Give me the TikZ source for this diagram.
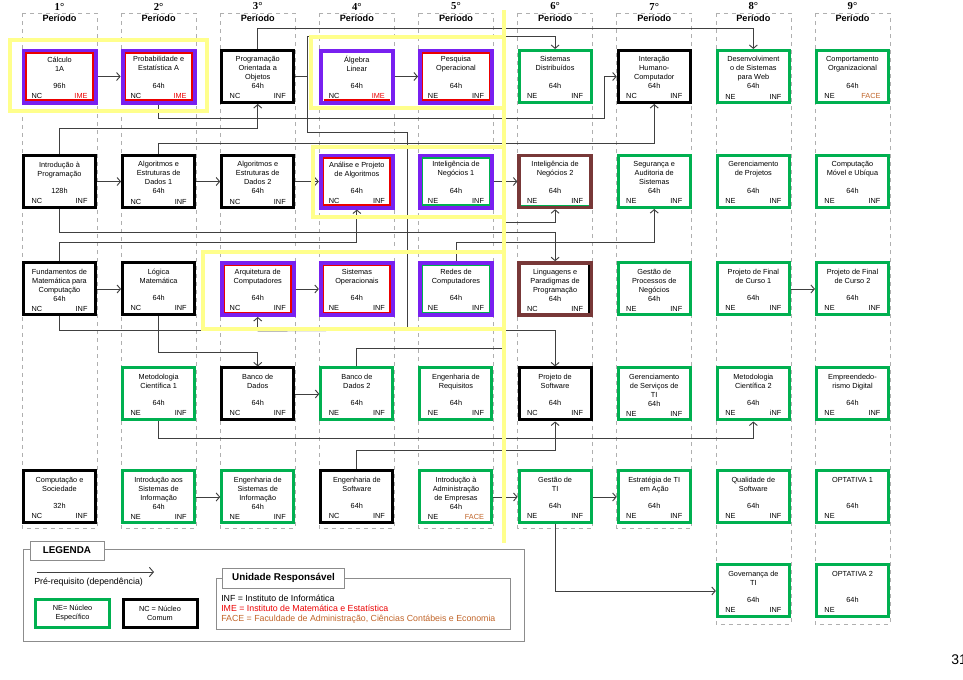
\documentclass[tikz,border=0pt]{standalone}
\usepackage{fontspec}
\setmainfont{Liberation Sans}
\newfontfamily\serifnum{Liberation Serif}
\usepackage{xcolor}
\usepackage{tikz}
\usetikzlibrary{shapes,arrows.meta,positioning}
\definecolor{neGreen}{RGB}{0,176,80}
\definecolor{imePurple}{RGB}{120,32,240}
\definecolor{imeRed}{RGB}{235,0,0}
\definecolor{faceBrown}{RGB}{192,100,40}
\definecolor{in2Brown}{RGB}{120,56,56}
\definecolor{lineGray}{RGB}{64,64,64}
\definecolor{frameGray}{RGB}{175,175,175}
\definecolor{markYellow}{RGB}{255,255,140}
\tikzstyle{arrow} = [draw=lineGray, -{Straight Barb[length=2.6pt,width=6pt]}, line width=0.7pt]
\tikzstyle{line} = [draw=lineGray, line width=0.7pt]
\tikzstyle{courseBlock} = [rectangle, minimum width=54pt, minimum height=39pt,
    inner sep=0pt, fill=white, font=\fontsize{5.5}{6.75}\selectfont]
\tikzstyle{neBlock} = [courseBlock, draw=neGreen, line width=2.25pt]
\tikzstyle{ncBlock} = [courseBlock, draw=black, line width=2.25pt]
\tikzstyle{imeBlock} = [courseBlock, draw=imePurple, line width=3pt]
\tikzstyle{brownBlock} = [courseBlock, draw=in2Brown, line width=2.6pt]
\tikzstyle{innerLine} = [line width=1.1pt]
\tikzstyle{markBox} = [draw=markYellow, line width=2.4pt]
\tikzstyle{periodFrame} = [draw=frameGray, dashed, line width=0.5pt]
\tikzstyle{periodNum} = [font=\serifnum\bfseries\fontsize{8}{9}\selectfont, inner sep=0pt]
\tikzstyle{periodName} = [font=\bfseries\fontsize{6.85}{8}\selectfont, inner sep=0pt]
\tikzstyle{legendFrame} = [draw=frameGray!80!black, line width=0.7pt]
\tikzstyle{legendTab} = [draw=frameGray!80!black, line width=0.7pt, fill=white,
    font=\bfseries\fontsize{7.4}{9}\selectfont]
\tikzstyle{unitText} = [anchor=west, inner sep=0pt, font=\fontsize{6.6}{8}\selectfont]
\newcommand{\courseText}[4]{\parbox[c][33pt][t]{50pt}{\vspace*{1.6pt}\centering #1\par\vfill
    #2\par\vspace{0.8pt}\hspace*{4pt}#3\hfill #4\hspace*{4pt}}}

\begin{document}
\begin{tikzpicture}[x=0.75pt, y=-0.75pt, node distance=74.34pt]
      \useasboundingbox (0,0) rectangle (963,679);
      % Period columns
      \foreach \c in {0,...,6}
        \draw [periodFrame] ({22+99.125*\c},13) rectangle ++(75,515);
      \foreach \c in {7,8}
        \draw [periodFrame] ({22+99.125*\c},13) rectangle ++(75,611);
      \foreach \c in {1,...,9} {
        \node [periodNum] (num\c) at ({59.5+99.125*(\c-1)},6.5) {\c°};
        \node [periodName] (per\c) at ({59.5+99.125*(\c-1)},18.5) {Período};
      }

      % Place nodes
      \node [imeBlock] (calc) at (59.5,76.5) {\courseText{Cálculo\\1A}{96h}{NC}{\textcolor{imeRed}{IME}}};
      \node [imeBlock, right of=calc] (prob) {\courseText{Probabilidade e\\Estatística A}{64h}{NC}{\textcolor{imeRed}{IME}}};
      \node [ncBlock, right of=prob] (poo) {\courseText{Programação\\Orientada a\\Objetos}{64h}{NC}{INF}};
      \node [imeBlock, right of=poo] (alg) {\courseText{Álgebra\\Linear}{64h}{NC}{\textcolor{imeRed}{IME}}};
      \node [imeBlock, right of=alg] (pesq) {\courseText{Pesquisa\\Operacional}{64h}{NE}{INF}};
      \node [neBlock, right of=pesq] (sd) {\courseText{Sistemas\\Distribuídos}{64h}{NE}{INF}};
      \node [ncBlock, right of=sd] (ihc) {\courseText{Interação\\Humano-\\Computador}{64h}{NC}{INF}};
      \node [neBlock, right of=ihc] (desweb) {\courseText{Desenvolviment\\o de Sistemas\\para Web}{64h}{NE}{INF}};
      \node [neBlock, right of=desweb] (comport) {\courseText{Comportamento\\Organizacional}{64h}{NE}{\textcolor{faceBrown}{FACE}}};

      \node [ncBlock, below of=calc, node distance=78.75pt] (introprog) {\courseText{Introdução à\\Programação}{128h}{NC}{INF}};
      \node [ncBlock, right of=introprog] (aed1) {\courseText{Algoritmos e\\Estruturas de\\Dados 1}{64h}{NC}{INF}};
      \node [ncBlock, right of=aed1] (aed2) {\courseText{Algoritmos e\\Estruturas de\\Dados 2}{64h}{NC}{INF}};
      \node [imeBlock, right of=aed2] (analise) {\courseText{Análise e Projeto\\de Algoritmos}{64h}{NC}{INF}};
      \node [imeBlock, right of=analise] (in1) {\courseText{Inteligência de\\Negócios 1}{64h}{NE}{INF}};
      \node [brownBlock, right of=in1] (in2) {\courseText{Inteligência de\\Negócios 2}{64h}{NE}{INF}};
      \node [neBlock, right of=in2] (seg) {\courseText{Segurança e\\Auditoria de\\Sistemas}{64h}{NE}{INF}};
      \node [neBlock, right of=seg] (gerproj) {\courseText{Gerenciamento\\de Projetos}{64h}{NE}{INF}};
      \node [neBlock, right of=gerproj] (movel) {\courseText{Computação\\Móvel e Ubíqua}{64h}{NE}{INF}};

      \node [ncBlock, below of=introprog, node distance=80.6pt] (fund) {\courseText{Fundamentos de\\Matemática para\\Computação}{64h}{NC}{INF}};
      \node [ncBlock, right of=fund] (logica) {\courseText{Lógica\\Matemática}{64h}{NC}{INF}};
      \node [imeBlock, right of=logica] (arq) {\courseText{Arquitetura de\\Computadores}{64h}{NC}{INF}};
      \node [imeBlock, right of=arq] (so) {\courseText{Sistemas\\Operacionais}{64h}{NE}{INF}};
      \node [imeBlock, right of=so] (redes) {\courseText{Redes de\\Computadores}{64h}{NE}{INF}};
      \node [brownBlock, right of=redes] (ling) {\courseText{Linguagens e\\Paradigmas de\\Programação}{64h}{NC}{INF}};
      \node [neBlock, right of=ling] (gproc) {\courseText{Gestão de\\Processos de\\Negócios}{64h}{NE}{INF}};
      \node [neBlock, right of=gproc] (pfc1) {\courseText{Projeto de Final\\de Curso 1}{64h}{NE}{INF}};
      \node [neBlock, right of=pfc1] (pfc2) {\courseText{Projeto de Final\\de Curso 2}{64h}{NE}{INF}};

      \node [neBlock, below of=logica, node distance=78.75pt] (metod1) {\courseText{Metodologia\\Científica 1}{64h}{NE}{INF}};
      \node [ncBlock, right of=metod1] (bd) {\courseText{Banco de\\Dados}{64h}{NC}{INF}};
      \node [neBlock, right of=bd] (bd2) {\courseText{Banco de\\Dados 2}{64h}{NE}{INF}};
      \node [neBlock, right of=bd2] (engreq) {\courseText{Engenharia de\\Requisitos}{64h}{NE}{INF}};
      \node [ncBlock, right of=engreq] (projsw) {\courseText{Projeto de\\Software}{64h}{NC}{INF}};
      \node [neBlock, right of=projsw] (gserv) {\courseText{Gerenciamento\\de Serviços de\\TI}{64h}{NE}{INF}};
      \node [neBlock, right of=gserv] (metod2) {\courseText{Metodologia\\Científica 2}{64h}{NE}{iNF}};
      \node [neBlock, right of=metod2] (empreend) {\courseText{Empreendedo-\\rismo Digital}{64h}{NE}{INF}};

      \node [ncBlock, below of=fund, node distance=156pt] (compsoc) {\courseText{Computação e\\Sociedade}{32h}{NC}{INF}};
      \node [neBlock, right of=compsoc] (intsi) {\courseText{Introdução aos\\Sistemas de\\Informação}{64h}{NE}{INF}};
      \node [neBlock, right of=intsi] (engsi) {\courseText{Engenharia de\\Sistemas de\\Informação}{64h}{NE}{INF}};
      \node [ncBlock, right of=engsi] (engsw) {\courseText{Engenharia de\\Software}{64h}{NC}{INF}};
      \node [neBlock, right of=engsw] (intadm) {\courseText{Introdução à\\Administração\\de Empresas}{64h}{NE}{\textcolor{faceBrown}{FACE}}};
      \node [neBlock, right of=intadm] (gestao) {\courseText{Gestão de\\TI}{64h}{NE}{INF}};
      \node [neBlock, right of=gestao] (estrat) {\courseText{Estratégia de TI\\em Ação}{64h}{NE}{INF}};
      \node [neBlock, right of=estrat] (qualid) {\courseText{Qualidade de\\Software}{64h}{NE}{INF}};
      \node [neBlock, right of=qualid] (opt1) {\courseText{OPTATIVA 1}{64h}{NE}{}};

      \node [neBlock, below of=qualid, node distance=70.5pt] (gov) {\courseText{Governança de\\TI}{64h}{NE}{INF}};
      \node [neBlock, right of=gov] (opt2) {\courseText{OPTATIVA 2}{64h}{NE}{}};

      % Inner borders
      \draw [innerLine, imeRed] ([shift={(3.5pt,3.5pt)}]calc.south west) rectangle ([shift={(-3.5pt,-3.5pt)}]calc.north east);
      \draw [innerLine, imeRed] ([shift={(3.5pt,3.5pt)}]prob.south west) rectangle ([shift={(-3.5pt,-3.5pt)}]prob.north east);
      \draw [innerLine, imeRed] ([shift={(3.5pt,3.5pt)}]alg.south west) -- ([shift={(-3.5pt,3.5pt)}]alg.south east);
      \draw [innerLine, imeRed] ([shift={(3.5pt,3.5pt)}]pesq.south west) rectangle ([shift={(-3.5pt,-3.5pt)}]pesq.north east);
      \draw [innerLine, imeRed] ([shift={(3.5pt,3.5pt)}]analise.south west) rectangle ([shift={(-3.5pt,-3.5pt)}]analise.north east);
      \draw [innerLine, neGreen] ([shift={(3.5pt,3.5pt)}]in1.south west) rectangle ([shift={(-3.5pt,-3.5pt)}]in1.north east);
      \draw [innerLine, imeRed] ([shift={(3.5pt,3.5pt)}]arq.south west) rectangle ([shift={(-3.5pt,-3.5pt)}]arq.north east);
      \draw [innerLine, imeRed] ([shift={(3.5pt,3.5pt)}]so.south west) rectangle ([shift={(-3.5pt,-3.5pt)}]so.north east);
      \draw [innerLine, neGreen] ([shift={(3.5pt,3.5pt)}]redes.south west) rectangle ([shift={(-3.5pt,-3.5pt)}]redes.north east);
      \draw [innerLine, neGreen] ([shift={(3pt,3pt)}]in2.south west) -- ([shift={(-3pt,3pt)}]in2.south east);
      \draw [innerLine, black] ([shift={(-3pt,3pt)}]ling.south east) -- ([shift={(-3pt,-3pt)}]ling.north east);

      % Bend points
      \coordinate (pooUp) at (307,36);
      \coordinate (pooDown) at (307,132);
      \coordinate (pooMid) at (407,330);
      \coordinate (probTurn) at (604,118);
      \coordinate (bd2Turn) at (505,222);

      % Prerequisites
      \path [arrow] (calc) -- (prob);
      \path [arrow] (alg) -- (pesq);
      \path [arrow] (introprog) -- (aed1);
      \path [arrow] (aed1) -- (aed2);
      \path [arrow] (aed2) -- (analise);
      \path [arrow] (in1) -- (in2);
      \path [arrow] (fund) -- (logica);
      \path [arrow] (arq) -- (so);
      \path [arrow] (pfc1) -- (pfc2);
      \path [arrow] (bd) -- (bd2);
      \path [arrow] (intsi) -- (engsi);
      \path [arrow] (intadm) -- (gestao);
      \path [arrow] (gestao) -- (estrat);
      \path [arrow] (gestao) |- (gov);
      \path [arrow] (poo.north) -- ++(0,-21) -| (desweb.north);
      \path [arrow] (poo.east) -| (pooUp) -| (sd.north);
      \path [arrow] (poo.east) -| (pooDown) -| (pooMid) -| (projsw.north);
      \path [arrow] (prob.south) |- (probTurn) |- (ihc.west);
      \path [arrow] (introprog.north) -- ++(0,-26) -| (poo.south);
      \path [arrow] (aed1.north) -- ++(0,-11) -| (ihc.south);
      \path [arrow] (introprog.south) -- ++(0,23) -| (ling.north);
      \path [arrow] (fund.north) -- ++(0,-19) -| (analise.south);
      \path [arrow] (redes.north) -- ++(0,-19) -| (seg.south);
      \path [arrow] (bd2.north) -- ++(0,-18) -| (bd2Turn) -| (in2.south);
      \path [arrow] (fund.south) -- ++(0,14) -| (arq.south);
      \path [line] (arq.south) ++(0,14) -- (pooMid);
      \path [arrow] (logica.south) -- ++(0,36) -| (bd.north);
      \path [arrow] (metod1.south) -- ++(0,17) -| (metod2.south);
      \path [arrow] (engsw.north) -- ++(0,-19) -| (projsw.south);

      % Highlight frames
      \draw [markBox] (10,40) rectangle (207,111);
      \draw [markBox] (311,37) rectangle (504,108);
      \draw [markBox] (313,147) rectangle (504,217);
      \draw [markBox] (203,252) rectangle (504,329);
      \draw [markBox] (504,10) -- (504,543);

      % Legend
      \draw [legendFrame] (23,549) rectangle (524,641);
      \node [legendTab, minimum width=55.5pt, minimum height=14.25pt] (legTitle) at (67,550.5) {LEGENDA};
      \coordinate (legStart) at (37,572);
      \coordinate (legEnd) at (154,572);
      \path [arrow, -{Straight Barb[length=3pt,width=7pt]}] (legStart) -- (legEnd);
      \node [unitText] (legText) at (34,582) {Pré-requisito (dependência)};
      \node [neBlock, minimum width=55.5pt, minimum height=21pt, align=center] (legNE) at (72.5,613.5) {NE= Núcleo\\Específico};
      \node [ncBlock, minimum width=55.5pt, minimum height=21pt, align=center] (legNC) at (160,613.5) {NC = Núcleo\\Comum};
      \draw [legendFrame] (216,578) rectangle (510,629);
      \node [legendTab, minimum width=92pt, minimum height=15pt] (unitTitle) at (283.5,578) {Unidade Responsável};
      \node [unitText] (unitINF) at (221,598) {INF = Instituto de Informática};
      \node [unitText, text=imeRed] (unitIME) at (221,608.5) {IME = Instituto de Matemática e Estatística};
      \node [unitText, text=faceBrown] (unitFACE) at (221,619) {FACE = Faculdade de Administração, Ciências Contábeis e Economia};

      \node [anchor=west, inner sep=0pt, font=\fontsize{10.5}{12}\selectfont] (pageNum) at (951,660) {31};
\end{tikzpicture}
\end{document}
